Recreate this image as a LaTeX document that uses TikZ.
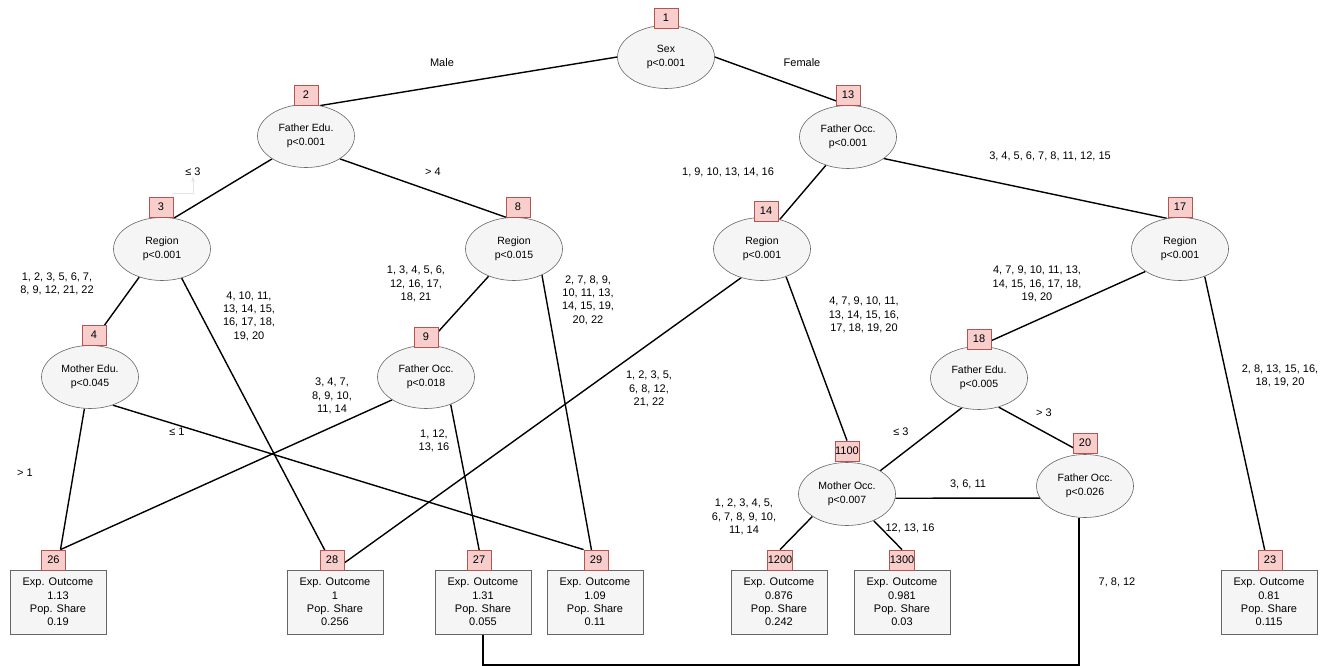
\documentclass[tikz,border=0pt]{standalone}
\usepackage{fontspec}
\setmainfont{Liberation Sans}
\usetikzlibrary{shapes.geometric}
\pgfdeclarelayer{bg}
\pgfsetlayers{bg,main}
\definecolor{cgray}{HTML}{666666}
\definecolor{cfill}{HTML}{F5F5F5}
\definecolor{credf}{HTML}{F8CECC}
\definecolor{credd}{HTML}{B85450}
\definecolor{cfaint}{HTML}{E4E4E4}
\newcommand{\dfont}{\fontsize{11pt}{13.4pt}\selectfont}
\newcommand{\efont}{\fontsize{10.5pt}{13.8pt}\selectfont}
\tikzset{
  ell/.style={ellipse, draw=cgray, fill=cfill, line width=0.6pt, minimum width=97pt, minimum height=63pt, inner sep=0pt, align=center, font=\efont},
  lbl/.style={rectangle, draw=credd, fill=credf, line width=0.8pt, minimum width=24pt, minimum height=20pt, inner sep=0pt, font=\dfont},
  leaf/.style={rectangle, draw=cgray, fill=cfill, line width=0.8pt, minimum width=96pt, minimum height=64pt, inner sep=0pt, align=center, font=\dfont},
  txt/.style={align=center, font=\dfont, inner sep=0pt},
  edge/.style={line width=1.4pt, black},
}
\begin{document}
\begin{tikzpicture}[x=1pt,y=-1pt]
\useasboundingbox (0,0) rectangle (1325,666);
% ellipses
\node[ell] (n1) at (666,57) {Sex\\p<0.001};
\node[ell] (n2) at (306,136) {Father Edu.\\p<0.001};
\node[ell] (n13) at (848,137) {Father Occ.\\p<0.001};
\node[ell] (n3) at (162,249) {Region\\p<0.001};
\node[ell] (n8) at (514,249) {Region\\p<0.015};
\node[ell] (n14) at (762,249) {Region\\p<0.001};
\node[ell] (n17) at (1180,249) {Region\\p<0.001};
\node[ell] (n4) at (90,377) {Mother Edu.\\p<0.045};
\node[ell] (n9) at (426,377) {Father Occ.\\p<0.018};
\node[ell] (n18) at (979,378) {Father Edu.\\p<0.005};
\node[ell] (n1100) at (847,494) {Mother Occ.\\p<0.007};
\node[ell] (n20) at (1085,486) {Father Occ.\\p<0.026};
% leaves
\node[leaf] (L26) at (58,602) {Exp. Outcome\\1.13\\Pop. Share\\0.19};
\node[leaf] (L28) at (335,602) {Exp. Outcome\\1\\Pop. Share\\0.256};
\node[leaf] (L27) at (483,602) {Exp. Outcome\\1.31\\Pop. Share\\0.055};
\node[leaf] (L29) at (595,602) {Exp. Outcome\\1.09\\Pop. Share\\0.11};
\node[leaf] (L1200) at (779,602) {Exp. Outcome\\0.876\\Pop. Share\\0.242};
\node[leaf] (L1300) at (902,602) {Exp. Outcome\\0.981\\Pop. Share\\0.03};
\node[leaf] (L23) at (1269,602) {Exp. Outcome\\0.81\\Pop. Share\\0.115};
% label boxes
\node[lbl] (B1) at (666,18) {1};
\node[lbl] (B2) at (306,95) {2};
\node[lbl] (B13) at (848,95) {13};
\node[lbl] (B3) at (161,207) {3};
\node[lbl] (B8) at (518,207) {8};
\node[lbl] (B14) at (766,211) {14};
\node[lbl] (B17) at (1180,207) {17};
\node[lbl] (B4) at (94,335) {4};
\node[lbl] (B9) at (426,337) {9};
\node[lbl] (B18) at (979,339) {18};
\node[lbl] (B1100) at (847,451) {1100};
\node[lbl] (B20) at (1085,443) {20};
\node[lbl] (B26) at (53.5,560) {26};
\node[lbl] (B28) at (332,560) {28};
\node[lbl] (B27) at (479,560) {27};
\node[lbl] (B29) at (596,560) {29};
\node[lbl] (B1200) at (780,560) {1200};
\node[lbl] (B1300) at (902,560) {1300};
\node[lbl] (B23) at (1270,560) {23};
% edge labels
\node[txt] (tmale) at (442,63) {Male};
\node[txt] (tfemale) at (802,63) {Female};
\node[txt] (tle3a) at (193,172) {≤ 3};
\node[txt] (tgt4) at (433,172) {> 4};
\node[txt] (tr3a) at (57,284) {1, 2, 3, 5, 6, 7,\\8, 9, 12, 21, 22};
\node[txt] (tr3b) at (249,316) {4, 10, 11,\\13, 14, 15,\\16, 17, 18,\\19, 20};
\node[txt] (tr8a) at (416,284) {1, 3, 4, 5, 6,\\12, 16, 17,\\18, 21};
\node[txt] (tr8b) at (588,300) {2, 7, 8, 9,\\10, 11, 13,\\14, 15, 19,\\20, 22};
\node[txt] (tf9a) at (332,396) {3, 4, 7,\\8, 9, 10,\\11, 14};
\node[txt] (tf9b) at (434,441) {1, 12,\\13, 16};
\node[txt] (tle1) at (177,432) {≤ 1};
\node[txt] (tgt1) at (25,473) {> 1};
\node[txt] (tr14a) at (649,389) {1, 2, 3, 5,\\6, 8, 12,\\21, 22};
\node[txt] (tr14b) at (864,315) {4, 7, 9, 10, 11,\\13, 14, 15, 16,\\17, 18, 19, 20};
\node[txt] (tf13a) at (728,172) {1, 9, 10, 13, 14, 16};
\node[txt] (tf13b) at (1050,156) {3, 4, 5, 6, 7, 8, 11, 12, 15};
\node[txt] (tr17a) at (1037,284) {4, 7, 9, 10, 11, 13,\\14, 15, 16, 17, 18,\\19, 20};
\node[txt] (tr17b) at (1280,376) {2, 8, 13, 15, 16,\\18, 19, 20};
\node[txt] (tgt3) at (1044,413) {> 3};
\node[txt] (tle3b) at (901,432) {≤ 3};
\node[txt] (tm36) at (968,484) {3, 6, 11};
\node[txt] (tm12) at (910,528) {12, 13, 16};
\node[txt] (tm1) at (744,517) {1, 2, 3, 4, 5,\\6, 7, 8, 9, 10,\\11, 14};
\node[txt] (tf78) at (1117,582) {7, 8, 12};
\coordinate (bot) at (0,665);
% edges
\begin{pgfonlayer}{bg}
\draw[edge] (n1.west) -- (n2.65);
\draw[edge] (n1.east) -- (n13.north);
\draw[edge] (n2.214) -- (n3.69);
\draw[edge] (n2.326) -- (n8.103);
\draw[edge] (n13.232) -- (n14.59);
\draw[edge] (n13.329) -- (n17.113);
\draw[edge] (n3.231) -- (n4.north);
\draw[edge] (n3.304) -- (L28.north);
\draw[edge] (n14.234) -- (L28.north);
\draw[edge] (n8.227) -- (n9.north);
\draw[edge] (n8.317) -- (L29.north);
\draw[edge] (n4.260) -- ([xshift=7pt]B26.north);
\draw[edge] (n4.309) -- (B29.north west);
\draw[edge] (n9.214) -- ([xshift=7pt]B26.north);
\draw[edge] (n9.312) -- (L27.north);
\draw[edge] (n14.311) -- (B1100.north);
\draw[edge] (n17.213) -- (n18.north);
\draw[edge] (n17.312) -- (L23.north);
\draw[edge] (n18.240) -- (n1100.35);
\draw[edge] (n18.304) -- (n20.north);
\draw[edge] (n1100.213) -- (B1200.north);
\draw[edge] (n1100.315) -- (B1300.north);
\draw[edge] (n1100.-5) -- (n20.195);
\draw[edge] ([xshift=-6pt]n20.south) |- (bot -| L27.south) -- (L27.south);
\draw[cfaint, line width=0.8pt, -latex] (B3.north east) ++(0,-3) -| (tle3a.south);
\end{pgfonlayer}
\end{tikzpicture}
\end{document}
